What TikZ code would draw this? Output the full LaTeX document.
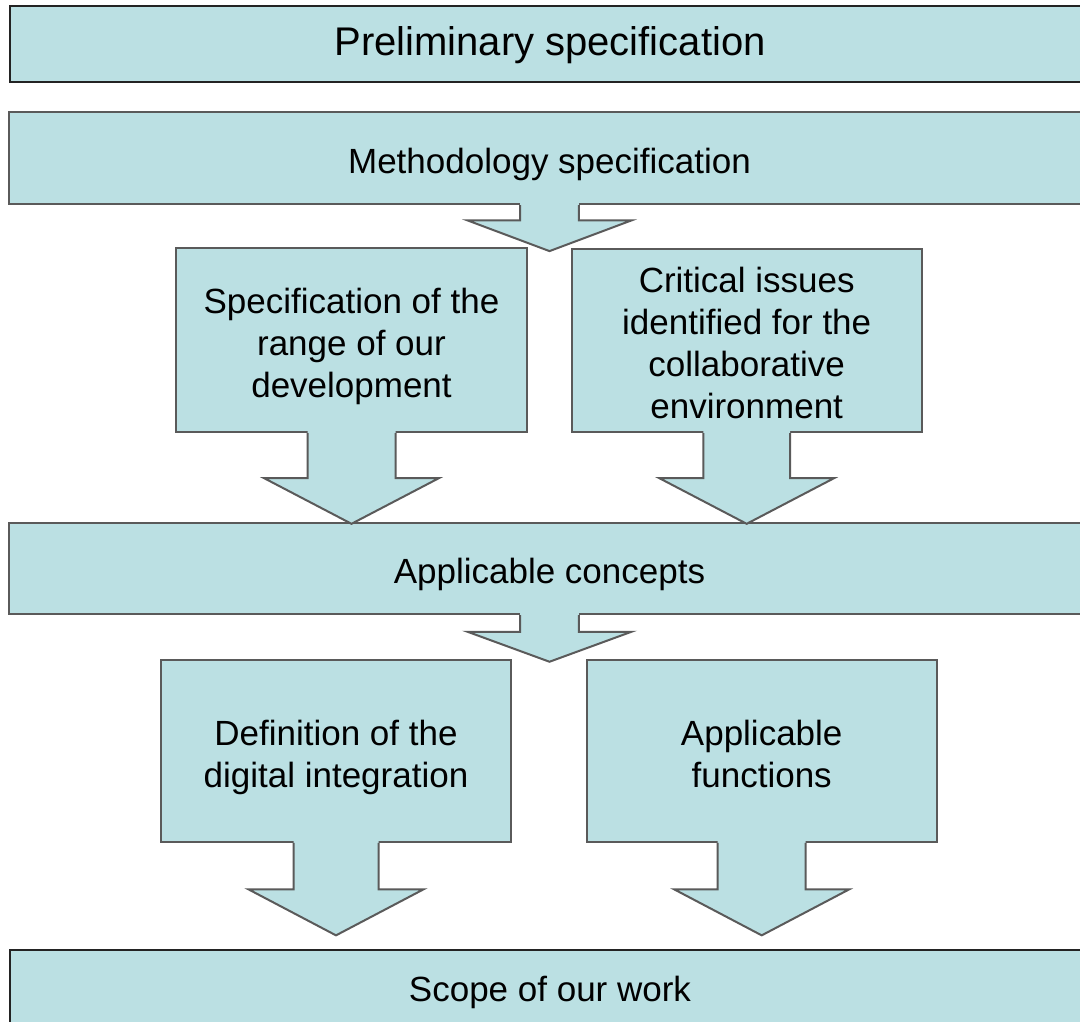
\documentclass[tikz,border=0pt]{standalone}
\usepackage{fontspec}
\setmainfont{Liberation Sans}
\usetikzlibrary{calc}
\definecolor{boxfill}{RGB}{187,224,227}
\definecolor{edgegray}{RGB}{90,90,90}
\definecolor{edgedark}{RGB}{35,35,35}
\newcommand{\boxtext}[2][-7pt]{\raisebox{#1}[\height][\depth]{\begin{tabular}{@{}c@{}}#2\end{tabular}}}
\newcommand{\blockarrow}[5]{%
  \fill[boxfill] ($(#1.south)+(-#2,-3)$) -- ++(0,#3+3) -- ++(-#4+#2,0) -- ++(#4,#5) -- ++(#4,-#5) -- ++(-#4+#2,0) -- ++(0,-#3-3) -- cycle;
  \draw[arrowline] ($(#1.south)+(-#2,0)$) -- ++(0,#3) -- ++(-#4+#2,0) -- ++(#4,#5) -- ++(#4,-#5) -- ++(-#4+#2,0) -- ++(0,-#3);
}
\begin{document}
\begin{tikzpicture}[x=1pt,y=-1pt,
  box/.style={draw=edgegray, fill=boxfill, line width=2.2pt, rectangle, inner sep=0pt,
    font=\fontsize{35}{42}\selectfont},
  darkbox/.style={box, draw=edgedark},
  arrowline/.style={draw=edgegray, line width=2pt, line join=miter}]
\useasboundingbox (0,0) rectangle (1080,1022);
\fill[white] (0,0) rectangle (1080,1022);

\node[darkbox, minimum width=1080, minimum height=76, font=\fontsize{40}{48}\selectfont] (pre) at (550,44) {\boxtext[-2pt]{Preliminary specification}};
\node[box, minimum width=1081, minimum height=92] (met) at (549.5,158) {\boxtext{Methodology specification}};
\node[box, minimum width=351, minimum height=184] (rng) at (351.5,340) {\boxtext{Specification of the\\range of our\\development}};
\node[box, minimum width=350, minimum height=183] (crt) at (746.7,340.5) {\boxtext{Critical issues\\identified for the\\collaborative\\environment}};
\node[box, minimum width=1081, minimum height=91.3] (con) at (549.5,568.3) {\boxtext{Applicable concepts}};
\node[box, minimum width=350, minimum height=181.7] (dig) at (336,750.8) {\boxtext{Definition of the\\digital integration}};
\node[box, minimum width=350, minimum height=181.7] (fun) at (761.7,750.8) {\boxtext{Applicable\\functions}};
\node[darkbox, minimum width=1080, minimum height=80] (scp) at (550,990) {\boxtext[-3pt]{Scope of our work}};

\blockarrow{met}{29.4}{15.3}{82}{30.7}
\blockarrow{rng}{44}{45}{87.5}{45.7}
\blockarrow{crt}{43.3}{45}{87.5}{45.7}
\blockarrow{con}{29.4}{16.7}{82}{30}
\blockarrow{dig}{42.5}{46.6}{87.5}{46}
\blockarrow{fun}{44}{46.6}{87.5}{46}
\end{tikzpicture}
\end{document}
